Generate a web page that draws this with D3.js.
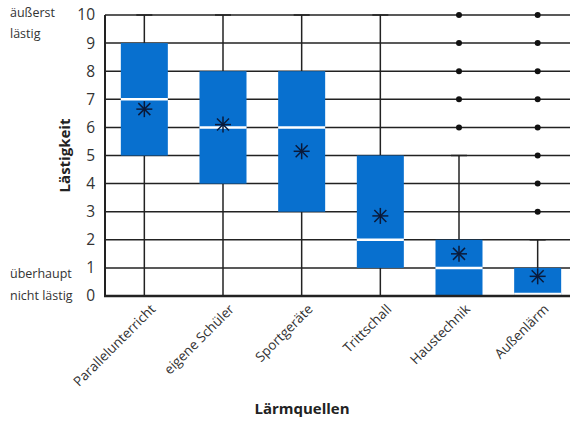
<!DOCTYPE html>
<html>
<head>
<meta charset="utf-8">
<script src="https://cdn.jsdelivr.net/npm/d3@7"></script>
<style>
  body { margin: 0; background: #fff; }
  svg { display: block; font-family: "Open Sans", sans-serif; }
</style>
</head>
<body>
<div id="chart"></div>
<script>
// Data
const categories = ['Parallelunterricht', 'eigene Schüler', 'Sportgeräte', 'Trittschall', 'Haustechnik', 'Außenlärm'];
const q1 = [5, 4, 3, 1, 0, 0];
const medians = [7, 6, 6, 2, 1, 0];
const q3 = [9, 8, 8, 5, 2, 1];
const whiskerLow = [0, 0, 0, 0, 0, 0];
const whiskerHigh = [10, 10, 10, 10, 5, 2];
const means = [6.65, 6.1, 5.15, 2.85, 1.5, 0.7];
const outliers = [[], [], [], [], [6, 7, 8, 9, 10], [3, 4, 5, 6, 7, 8, 9, 10]];
const yTicks = [0, 1, 2, 3, 4, 5, 6, 7, 8, 9, 10];

const width = 570, height = 424;
const margin = { top: 15, left: 105, bottom: 128 };
const plotRight = 577; // plot runs off the right edge
const plotBottom = height - margin.bottom;

const svg = d3.select('#chart').append('svg')
    .attr('width', width)
    .attr('height', height);

const x = d3.scaleBand()
    .domain(categories)
    .range([margin.left, plotRight])
    .paddingInner(0)
    .paddingOuter(0);

const y = d3.scaleLinear()
    .domain([0, 10])
    .range([plotBottom, margin.top]);

const boxW = 47;
const data = categories.map((c, i) => ({
    cat: c, q1: q1[i], med: medians[i], q3: q3[i],
    lo: whiskerLow[i], hi: whiskerHigh[i], mean: means[i], out: outliers[i]
}));

// Horizontal grid lines
svg.append('g')
    .selectAll('line')
    .data(yTicks)
    .join('line')
    .attr('x1', margin.left)
    .attr('x2', width)
    .attr('y1', d => y(d))
    .attr('y2', d => y(d))
    .attr('stroke', '#222')
    .attr('stroke-width', 1.5);

// Whiskers
const groups = svg.append('g').selectAll('g')
    .data(data)
    .join('g')
    .attr('transform', d => `translate(${x(d.cat) + x.bandwidth() / 2},0)`);

groups.append('line')
    .attr('y1', d => y(d.lo))
    .attr('y2', d => y(d.hi))
    .attr('stroke', '#222')
    .attr('stroke-width', 1.5);

groups.append('line')
    .attr('x1', -8).attr('x2', 8)
    .attr('y1', d => y(d.hi))
    .attr('y2', d => y(d.hi))
    .attr('stroke', '#222')
    .attr('stroke-width', 1.5);

// Boxes
groups.append('rect')
    .attr('x', -boxW / 2)
    .attr('width', boxW)
    .attr('y', d => y(d.q3))
    .attr('height', d => y(d.q1) - y(d.q3))
    .attr('fill', '#0870cf');

// Median lines
groups.append('line')
    .attr('x1', -boxW / 2).attr('x2', boxW / 2)
    .attr('y1', d => y(d.med) + (d.med === d.q1 ? -2 : 0))
    .attr('y2', d => y(d.med) + (d.med === d.q1 ? -2 : 0))
    .attr('stroke', '#fff')
    .attr('stroke-width', 2.5);

// Mean asterisks
const star = groups.append('g')
    .attr('transform', d => `translate(0,${y(d.mean)})`);
[[-8, 0, 8, 0], [0, -8, 0, 8], [-6, -6, 6, 6], [-6, 6, 6, -6]].forEach(s => {
    star.append('line')
        .attr('x1', s[0]).attr('y1', s[1])
        .attr('x2', s[2]).attr('y2', s[3])
        .attr('stroke', '#0a1a3a')
        .attr('stroke-width', 1.5);
});

// Outliers
groups.selectAll('circle')
    .data(d => d.out)
    .join('circle')
    .attr('cy', d => y(d))
    .attr('r', 3)
    .attr('fill', '#111');

// Axis frame
svg.append('line')
    .attr('x1', margin.left).attr('x2', margin.left)
    .attr('y1', y(10)).attr('y2', plotBottom)
    .attr('stroke', '#222').attr('stroke-width', 2);
svg.append('line')
    .attr('x1', margin.left - 1).attr('x2', width)
    .attr('y1', plotBottom).attr('y2', plotBottom)
    .attr('stroke', '#222').attr('stroke-width', 2.5);

// Y axis labels
const yAxis = d3.axisLeft(y).tickValues(yTicks).tickSize(0).tickPadding(10);
const yG = svg.append('g')
    .attr('transform', `translate(${margin.left},0)`)
    .call(yAxis);
yG.select('.domain').remove();
yG.selectAll('text')
    .attr('font-family', '"Open Sans", sans-serif')
    .attr('font-size', 15.5)
    .attr('fill', '#333');

// End-point annotations
const noteSize = 12.5;
svg.append('text').attr('x', 10).attr('y', y(10) + 2).attr('font-size', noteSize).attr('fill', '#333').text('äußerst');
svg.append('text').attr('x', 10).attr('y', y(10) + 23).attr('font-size', noteSize).attr('fill', '#333').text('lästig');
svg.append('text').attr('x', 10).attr('y', y(1) + 10).attr('font-size', noteSize).attr('fill', '#333').text('überhaupt');
svg.append('text').attr('x', 10).attr('y', y(0) + 4).attr('font-size', noteSize).attr('fill', '#333').text('nicht lästig');

// Y title
svg.append('text')
    .attr('transform', `translate(70,${y(5)}) rotate(-90)`)
    .attr('text-anchor', 'middle')
    .attr('font-size', 15)
    .attr('font-weight', 'bold')
    .attr('fill', '#222')
    .text('Lästigkeit');

// X labels
const xAxis = d3.axisBottom(x).tickSize(0).tickPadding(0);
const xG = svg.append('g')
    .attr('transform', `translate(0,${plotBottom})`)
    .call(xAxis);
xG.select('.domain').remove();
xG.selectAll('text')
    .attr('font-family', '"Open Sans", sans-serif')
    .attr('font-size', 13.5)
    .attr('fill', '#333')
    .attr('text-anchor', 'end')
    .attr('dy', 0)
    .attr('transform', 'translate(12,14) rotate(-45)');

// X title
svg.append('text')
    .attr('x', 302)
    .attr('y', 414)
    .attr('text-anchor', 'middle')
    .attr('font-size', 15)
    .attr('font-weight', 'bold')
    .attr('fill', '#222')
    .text('Lärmquellen');
</script>
</body>
</html>
